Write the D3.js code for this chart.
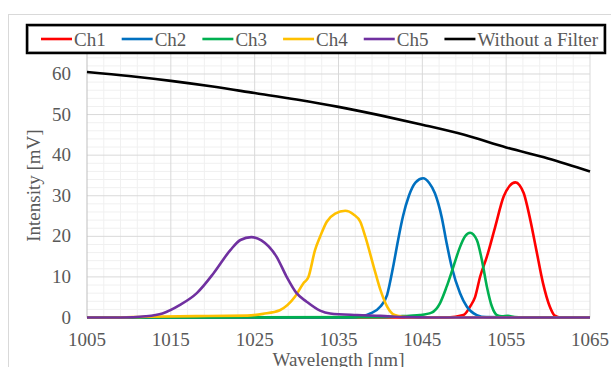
<!DOCTYPE html>
<html>
<head>
<meta charset="utf-8">
<script src="https://cdn.jsdelivr.net/npm/d3@7"></script>
<style>
  body { margin: 0; background: #fff; }
  text { font-family: "Liberation Serif", "Times New Roman", serif; fill: #595959; }
</style>
</head>
<body>
<svg id="chart" width="611" height="367"></svg>
<script>
// series data, [wavelength nm, intensity mV]
var ch1 = [[1005,0],[1048,0],[1049.9,0.6],[1050.7,2.7],[1051.3,5.1],[1051.9,10.1],[1052.7,15],[1053.7,22.4],
  [1054.7,29.8],[1055.4,32.4],[1056.1,33.3],[1056.6,32.6],[1057.1,30.6],[1057.8,24.8],[1058.6,16.6],
  [1059.4,8.4],[1060.2,2.7],[1060.8,0.45],[1061.5,0],[1065,0]];
var ch2 = [[1005,0],[1036,0],[1038,0.4],[1038.8,1],[1040,2.7],[1040.8,5.6],[1041.5,12.3],[1042.1,19],
  [1042.7,25],[1043.4,30],[1044.2,33.3],[1045.1,34.3],[1045.8,33.2],[1046.5,30.6],[1047.3,24.8],
  [1047.9,18.3],[1048.5,12.5],[1049.5,6],[1050.3,2.7],[1051.5,0.6],[1052.6,0.1],[1065,0]];
var ch3 = [[1005,0],[1040,0.1],[1043.5,0.45],[1044.7,0.6],[1046.1,1.2],[1047.1,3.5],[1047.9,7.6],
  [1048.7,12.5],[1049.5,17.4],[1050.1,20],[1050.7,20.9],[1051.5,19.1],[1052.1,14.2],[1052.7,7.6],
  [1053.3,2.7],[1053.9,0.6],[1054.5,0.3],[1055.2,0.4],[1056,0.1],[1057,0],[1065,0]];
var ch4 = [[1005,0],[1008,0],[1012,0.2],[1018,0.35],[1024.1,0.45],[1026,0.9],[1028,1.8],[1029.8,5.1],
  [1030.8,8.4],[1031.4,9.9],[1032.2,16.6],[1032.8,19.9],[1033.6,23.6],[1034.6,25.6],[1035.8,26.3],
  [1036.8,25.4],[1037.6,23.6],[1038.2,19.9],[1039.2,12.5],[1040,6.8],[1040.8,2.7],[1041.7,0.6],
  [1042.7,0.2],[1044,0],[1065,0]];
var ch5 = [[1005,0],[1009,0],[1012,0.3],[1014,1],[1016.1,3.1],[1018.1,6],[1020.1,10.9],[1022.1,16.6],
  [1023.3,19.1],[1024.6,19.8],[1025.8,19],[1027.6,15],[1028.8,10.1],[1030,6],[1031.2,3.9],[1032.8,1.7],
  [1034,1],[1037.2,0.6],[1040,0.4],[1043,0.1],[1046,0],[1065,0]];
var noFilter = [[1005,60.5],[1010,59.5],[1015,58.3],[1020,56.9],[1025,55.3],[1030,53.7],
  [1035,51.9],[1040,49.8],[1045,47.5],[1050,45],[1055,41.9],[1060,39.2],[1065,36]];

var names = ["Ch1", "Ch2", "Ch3", "Ch4", "Ch5", "Without a Filter"];
var colors = ["#ff0000", "#0070c0", "#00b050", "#ffc000", "#7030a0", "#000000"];
var series = [ch1, ch2, ch3, ch4, ch5, noFilter];

var xTicks = [1005, 1015, 1025, 1035, 1045, 1055, 1065];
var yTicks = [0, 10, 20, 30, 40, 50, 60];

var svg = d3.select("#chart");

var x = d3.scaleLinear().domain([1005, 1065]).range([87, 590]);
var y = d3.scaleLinear().domain([0, 65]).range([317.5, 53.7]);

// outer chart frame
svg.append("rect")
  .attr("x", 8.5).attr("y", 14.5)
  .attr("width", 620).attr("height", 370)
  .attr("fill", "none").attr("stroke", "#d9d9d9");

// minor grid
var g = svg.append("g");
g.selectAll(".minx")
  .data(d3.range(1007, 1065, 2).filter(function(d) { return (d - 1005) % 10 != 0; }))
  .enter().append("line")
    .attr("x1", function(d) { return x(d); }).attr("x2", function(d) { return x(d); })
    .attr("y1", y(65)).attr("y2", y(0))
    .attr("stroke", "#f0f0f0");
g.selectAll(".miny")
  .data(d3.range(2, 65, 2).filter(function(d) { return d % 10 != 0; }))
  .enter().append("line")
    .attr("y1", function(d) { return y(d); }).attr("y2", function(d) { return y(d); })
    .attr("x1", x(1005)).attr("x2", x(1065))
    .attr("stroke", "#f0f0f0");

// major grid
g.selectAll(".majx")
  .data(xTicks.slice(1))
  .enter().append("line")
    .attr("x1", function(d) { return x(d); }).attr("x2", function(d) { return x(d); })
    .attr("y1", y(65)).attr("y2", y(0))
    .attr("stroke", "#d9d9d9");
g.selectAll(".majy")
  .data(yTicks.slice(1))
  .enter().append("line")
    .attr("y1", function(d) { return y(d); }).attr("y2", function(d) { return y(d); })
    .attr("x1", x(1005)).attr("x2", x(1065))
    .attr("stroke", "#d9d9d9");

// axis lines
svg.append("line")
  .attr("x1", x(1005)).attr("x2", x(1005))
  .attr("y1", y(65)).attr("y2", y(0))
  .attr("stroke", "#bfbfbf");
svg.append("line")
  .attr("x1", x(1005)).attr("x2", x(1065))
  .attr("y1", y(0)).attr("y2", y(0))
  .attr("stroke", "#bfbfbf");

// tick labels
svg.selectAll(".xl")
  .data(xTicks)
  .enter().append("text")
    .attr("x", function(d) { return x(d); })
    .attr("y", 346)
    .attr("text-anchor", "middle")
    .attr("font-size", "19px")
    .text(function(d) { return d; });
svg.selectAll(".yl")
  .data(yTicks)
  .enter().append("text")
    .attr("x", 71)
    .attr("y", function(d) { return y(d) + 6; })
    .attr("text-anchor", "end")
    .attr("font-size", "19px")
    .text(function(d) { return d; });

// axis titles
svg.append("text")
  .attr("x", (x(1005) + x(1065)) / 2)
  .attr("y", 366)
  .attr("text-anchor", "middle")
  .attr("font-size", "19px")
  .text("Wavelength [nm]");
svg.append("text")
  .attr("transform", "translate(40," + (y(0) + y(65)) / 2 + ") rotate(-90)")
  .attr("text-anchor", "middle")
  .attr("font-size", "19px")
  .text("Intensity [mV]");

// lines
var line = d3.line()
  .x(function(d) { return x(d[0]); })
  .y(function(d) { return y(d[1]); })
  .curve(d3.curveMonotoneX);

svg.append("g")
  .selectAll("path")
  .data(series)
  .enter().append("path")
    .attr("d", line)
    .attr("fill", "none")
    .attr("stroke", function(d, i) { return colors[i]; })
    .attr("stroke-width", 2.6)
    .attr("stroke-linejoin", "round");

// legend
var leg = svg.append("g");
leg.append("rect")
  .attr("x", 27).attr("y", 25)
  .attr("width", 578).attr("height", 28)
  .attr("fill", "#fff")
  .attr("stroke", "#000").attr("stroke-width", 2.5);
leg.append("rect")
  .attr("x", 28.5).attr("y", 26.5)
  .attr("width", 575).attr("height", 25)
  .attr("fill", "none")
  .attr("stroke", "#7f7f7f").attr("stroke-width", 0.6);

var lx = 41;
names.forEach(function(n, i) {
  leg.append("line")
    .attr("x1", lx).attr("x2", lx + 31)
    .attr("y1", 39).attr("y2", 39)
    .attr("stroke", colors[i]).attr("stroke-width", 2.6);
  var t = leg.append("text")
    .attr("x", lx + 33)
    .attr("y", 45.5)
    .attr("font-size", "19px")
    .text(n);
  lx = lx + 33 + t.node().getComputedTextLength() + 16;
});
</script>
</body>
</html>
